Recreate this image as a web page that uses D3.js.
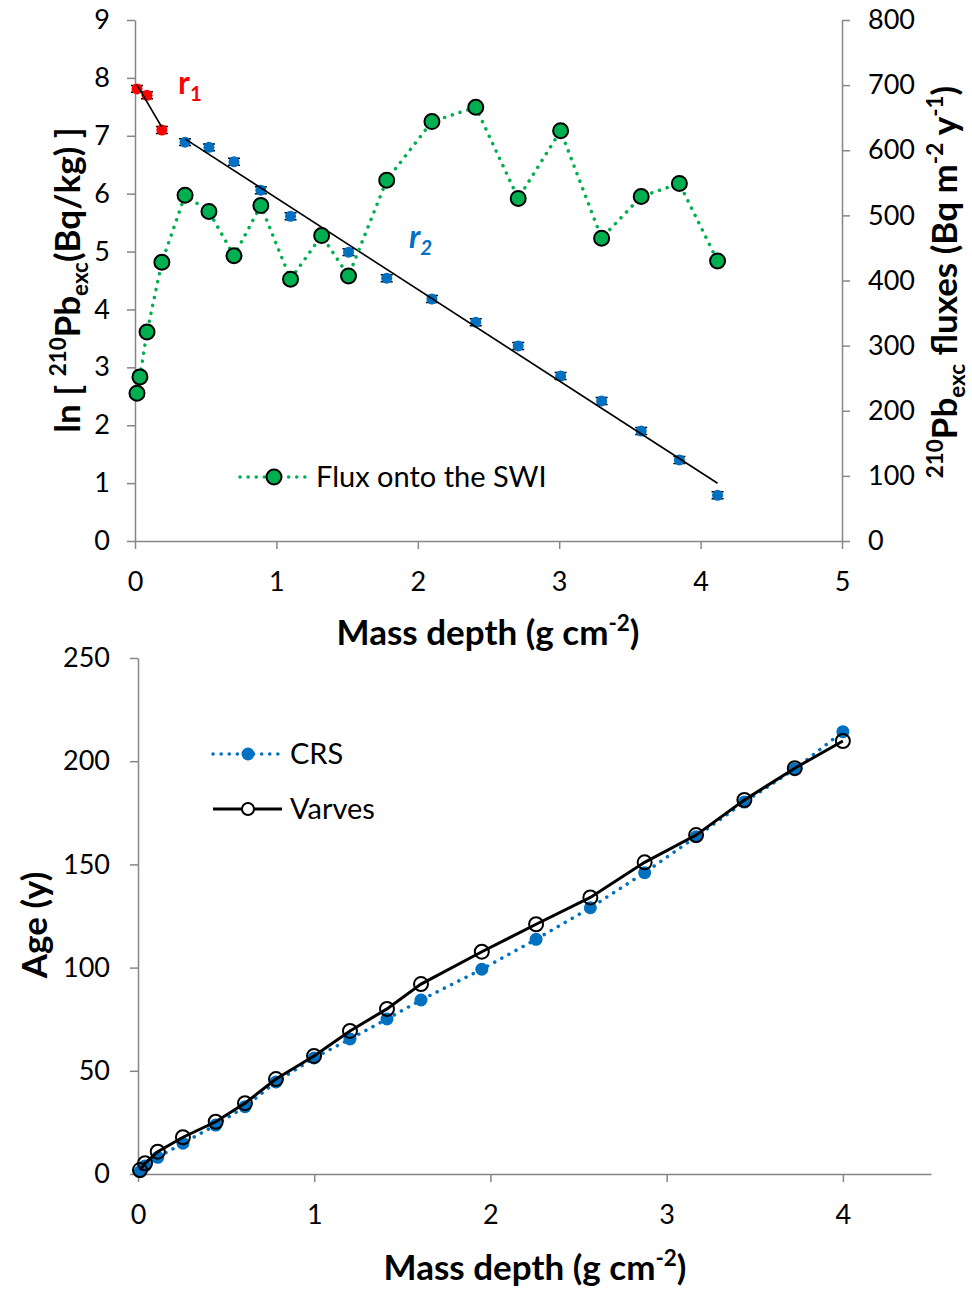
<!DOCTYPE html>
<html>
<head>
<meta charset="utf-8">
<script src="https://cdn.jsdelivr.net/npm/d3@7"></script>
<style>
  body { margin: 0; background: #fff; }
  svg { display: block; font-family: Lato, 'Open Sans', sans-serif; }
  text { white-space: pre; }
</style>
</head>
<body>
<svg id="chart" width="972" height="1292"></svg>
<script>
// top panel : ln(210Pb excess) profile, two regression segments, and flux
const r1Depth = [0.014, 0.085, 0.19]
const r1LnPb = [7.81, 7.70, 7.10]
const r2Depth = [0.354, 0.523, 0.70, 0.89, 1.10, 1.51, 1.78, 2.10, 2.41, 2.71, 3.01, 3.30, 3.58, 3.85, 4.12]
const r2LnPb = [6.89, 6.80, 6.55, 6.06, 5.61, 4.99, 4.54, 4.18, 3.78, 3.37, 2.85, 2.42, 1.90, 1.40, 0.79]
const lnPbErr = 0.06
const fluxDepth = [0.014, 0.035, 0.085, 0.19, 0.354, 0.523, 0.70, 0.89, 1.10, 1.32, 1.51, 1.78, 2.10, 2.41, 2.71, 3.01, 3.30, 3.58, 3.85, 4.12]
const fluxValues = [227, 252, 321, 428, 531, 506, 438, 515, 402, 469, 407, 554, 644, 666, 526, 630, 465, 529, 549, 430]
const topXTicks = [0, 1, 2, 3, 4, 5]
const lnTicks = [0, 1, 2, 3, 4, 5, 6, 7, 8, 9]
const fluxTicks = [0, 100, 200, 300, 400, 500, 600, 700, 800]

// bottom panel : age models
const ageDepth = [0.011, 0.04, 0.112, 0.255, 0.441, 0.607, 0.783, 0.999, 1.203, 1.413, 1.606, 1.951, 2.259, 2.567, 2.875, 3.167, 3.441, 3.727, 4.0]
const crsAge = [1.1, 3.9, 8.1, 14.9, 23.7, 32.6, 44.6, 56.2, 65.4, 75.1, 84.3, 99.2, 113.7, 129, 146, 163.4, 180.2, 196.2, 214.3]
const varveAge = [1.9, 5.2, 10.8, 17.8, 25.3, 34.3, 46, 57.2, 69.3, 80, 92, 107.7, 121, 134, 151, 164.2, 181.2, 196.6, 209.8]
const botXTicks = [0, 1, 2, 3, 4]
const ageTicks = [0, 50, 100, 150, 200, 250]

const axisColor = '#868686'
const blue = '#0070C0', red = '#FF0000', green = '#00B050'
const tickFont = 27
const titleFont = 35
const legendFont = 29

const svg = d3.select('#chart')

function styleAxis(g) {
  g.attr('font-size', tickFont).attr('font-family', 'Lato, sans-serif')
  g.select('.domain').attr('stroke', axisColor).attr('stroke-width', 1.5)
  g.selectAll('.tick line').attr('stroke', axisColor).attr('stroke-width', 1.5)
  g.selectAll('.tick text').attr('fill', '#000')
}

// text with super/subscripts
function richText(sel, parts, size) {
  let shift = 0
  parts.forEach(p => {
    let target = p.sup ? -size * 0.4 : p.sub ? size * 0.22 : 0
    sel.append('tspan')
      .attr('dy', target - shift)
      .attr('font-size', p.sup || p.sub ? size * 0.64 : size)
      .text(p.t)
    shift = target
  })
  return sel
}

function linFit(xs, ys) {
  let mx = d3.mean(xs), my = d3.mean(ys)
  let sxy = d3.sum(xs, (x, i) => (x - mx) * (ys[i] - my))
  let sxx = d3.sum(xs, x => (x - mx) * (x - mx))
  let b = sxy / sxx
  return x => my + b * (x - mx)
}

const intFmt = d3.format('d')

// ---------- top chart ----------
const xTop = d3.scaleLinear().domain([0, 5]).range([135, 842])
const yLn = d3.scaleLinear().domain([0, 9]).range([541, 20])
const yFlux = d3.scaleLinear().domain([0, 800]).range([541, 20])

svg.append('g').attr('transform', 'translate(0,541)')
  .call(d3.axisBottom(xTop).tickValues(topXTicks).tickFormat(intFmt).tickSize(8).tickSizeOuter(0).tickPadding(23))
  .call(styleAxis)
svg.append('g').attr('transform', 'translate(135,0)')
  .call(d3.axisLeft(yLn).tickValues(lnTicks).tickFormat(intFmt).tickSize(8).tickSizeOuter(0).tickPadding(17))
  .call(styleAxis)
svg.append('g').attr('transform', 'translate(842,0)')
  .call(d3.axisRight(yFlux).tickValues(fluxTicks).tickFormat(intFmt).tickSize(8).tickSizeOuter(0).tickPadding(18))
  .call(styleAxis)

let topG = svg.append('g')

// error bars
let pbPoints = r1Depth.map((d, i) => ({ x: d, y: r1LnPb[i], c: red }))
  .concat(r2Depth.map((d, i) => ({ x: d, y: r2LnPb[i], c: blue })))
topG.selectAll('path.err').data(pbPoints).join('path')
  .attr('class', 'err')
  .attr('d', d => {
    let x = xTop(d.x), y0 = yLn(d.y - lnPbErr), y1 = yLn(d.y + lnPbErr)
    return `M${x - 6},${y0}H${x + 6}M${x},${y0}V${y1}M${x - 6},${y1}H${x + 6}`
  })
  .attr('stroke', '#000').attr('stroke-width', 1.5).attr('fill', 'none')

topG.selectAll('circle.pb').data(pbPoints).join('circle')
  .attr('class', 'pb')
  .attr('cx', d => xTop(d.x)).attr('cy', d => yLn(d.y))
  .attr('r', 5.5).attr('fill', d => d.c)

// regression lines r1 and r2
;[[r1Depth, r1LnPb], [r2Depth, r2LnPb]].forEach(([xs, ys]) => {
  let f = linFit(xs, ys)
  let ext = d3.extent(xs)
  topG.append('line')
    .attr('x1', xTop(ext[0])).attr('y1', yLn(f(ext[0])))
    .attr('x2', xTop(ext[1])).attr('y2', yLn(f(ext[1])))
    .attr('stroke', '#000').attr('stroke-width', 1.6)
})

// flux series
let fluxLine = d3.line().x(d => xTop(d[0])).y(d => yFlux(d[1]))
topG.append('path')
  .attr('d', fluxLine(fluxDepth.map((d, i) => [d, fluxValues[i]])))
  .attr('fill', 'none').attr('stroke', green).attr('stroke-width', 3.5)
  .attr('stroke-linecap', 'round').attr('stroke-dasharray', '0.1 8')
topG.selectAll('circle.flux').data(fluxDepth).join('circle')
  .attr('class', 'flux')
  .attr('cx', d => xTop(d)).attr('cy', (d, i) => yFlux(fluxValues[i]))
  .attr('r', 7.5).attr('fill', green).attr('stroke', '#000').attr('stroke-width', 2)

// legend
topG.append('line').attr('x1', 240).attr('x2', 307).attr('y1', 477).attr('y2', 477)
  .attr('stroke', green).attr('stroke-width', 3.5).attr('stroke-linecap', 'round').attr('stroke-dasharray', '0.1 8')
topG.append('circle').attr('cx', 274).attr('cy', 477).attr('r', 7.5)
  .attr('fill', green).attr('stroke', '#000').attr('stroke-width', 2)
topG.append('text').attr('x', 316).attr('y', 487).attr('font-size', legendFont).text('Flux onto the SWI')

// r labels
richText(topG.append('text').attr('x', 178).attr('y', 94).attr('fill', red).attr('font-weight', 'bold'),
  [{ t: 'r' }, { t: '1', sub: true }], 32)
richText(topG.append('text').attr('x', 409).attr('y', 248).attr('fill', blue).attr('font-weight', 'bold').attr('font-style', 'italic'),
  [{ t: 'r' }, { t: '2', sub: true }], 32)

// titles
richText(svg.append('text').attr('x', 488).attr('y', 645).attr('text-anchor', 'middle').attr('font-weight', 'bold'),
  [{ t: 'Mass depth (g cm' }, { t: '-2', sup: true }, { t: ')' }], titleFont)
richText(svg.append('text').attr('transform', 'translate(80,280) rotate(-90)').attr('text-anchor', 'middle').attr('font-weight', 'bold'),
  [{ t: 'ln [ ' }, { t: '210', sup: true }, { t: 'Pb' }, { t: 'exc', sub: true }, { t: '(Bq/kg) ]' }], titleFont)
richText(svg.append('text').attr('transform', 'translate(957,282) rotate(-90)').attr('text-anchor', 'middle').attr('font-weight', 'bold'),
  [{ t: '210', sup: true }, { t: 'Pb' }, { t: 'exc', sub: true }, { t: ' fluxes (Bq m' }, { t: '-2', sup: true }, { t: ' y' }, { t: '-1', sup: true }, { t: ')' }], titleFont)

// ---------- bottom chart ----------
const xBot = d3.scaleLinear().domain([0, 4.5]).range([138, 931])
const yAge = d3.scaleLinear().domain([0, 250]).range([1174, 658])

svg.append('g').attr('transform', 'translate(0,1174)')
  .call(d3.axisBottom(xBot).tickValues(botXTicks).tickFormat(intFmt).tickSize(8).tickSizeOuter(0).tickPadding(23))
  .call(styleAxis)
svg.append('g').attr('transform', 'translate(138,0)')
  .call(d3.axisLeft(yAge).tickValues(ageTicks).tickFormat(intFmt).tickSize(8).tickSizeOuter(0).tickPadding(20))
  .call(styleAxis)

let botG = svg.append('g')
let ageLine = d3.line().x(d => xBot(d[0])).y(d => yAge(d[1]))

botG.append('path')
  .attr('d', ageLine(ageDepth.map((d, i) => [d, crsAge[i]])))
  .attr('fill', 'none').attr('stroke', blue).attr('stroke-width', 3.5)
  .attr('stroke-linecap', 'round').attr('stroke-dasharray', '0.1 8')
botG.selectAll('circle.crs').data(ageDepth).join('circle')
  .attr('class', 'crs')
  .attr('cx', d => xBot(d)).attr('cy', (d, i) => yAge(crsAge[i]))
  .attr('r', 6.5).attr('fill', blue)

botG.append('path')
  .attr('d', ageLine(ageDepth.map((d, i) => [d, varveAge[i]])))
  .attr('fill', 'none').attr('stroke', '#000').attr('stroke-width', 3)
botG.selectAll('circle.varve').data(ageDepth).join('circle')
  .attr('class', 'varve')
  .attr('cx', d => xBot(d)).attr('cy', (d, i) => yAge(varveAge[i]))
  .attr('r', 7).attr('fill', 'none').attr('stroke', '#000').attr('stroke-width', 2)

// legend
botG.append('line').attr('x1', 213).attr('x2', 282).attr('y1', 754).attr('y2', 754)
  .attr('stroke', blue).attr('stroke-width', 3.5).attr('stroke-linecap', 'round').attr('stroke-dasharray', '0.1 8')
botG.append('circle').attr('cx', 248).attr('cy', 754).attr('r', 6.5).attr('fill', blue)
botG.append('text').attr('x', 290).attr('y', 764).attr('font-size', legendFont).text('CRS')
botG.append('line').attr('x1', 213).attr('x2', 282).attr('y1', 809).attr('y2', 809)
  .attr('stroke', '#000').attr('stroke-width', 3)
botG.append('circle').attr('cx', 248).attr('cy', 809).attr('r', 6).attr('fill', '#fff')
  .attr('stroke', '#000').attr('stroke-width', 2)
botG.append('text').attr('x', 290).attr('y', 819).attr('font-size', legendFont).text('Varves')

richText(svg.append('text').attr('x', 535).attr('y', 1280).attr('text-anchor', 'middle').attr('font-weight', 'bold'),
  [{ t: 'Mass depth (g cm' }, { t: '-2', sup: true }, { t: ')' }], titleFont)
svg.append('text').attr('transform', 'translate(47,925) rotate(-90)').attr('text-anchor', 'middle')
  .attr('font-weight', 'bold').attr('font-size', titleFont).text('Age (y)')
</script>
</body>
</html>
